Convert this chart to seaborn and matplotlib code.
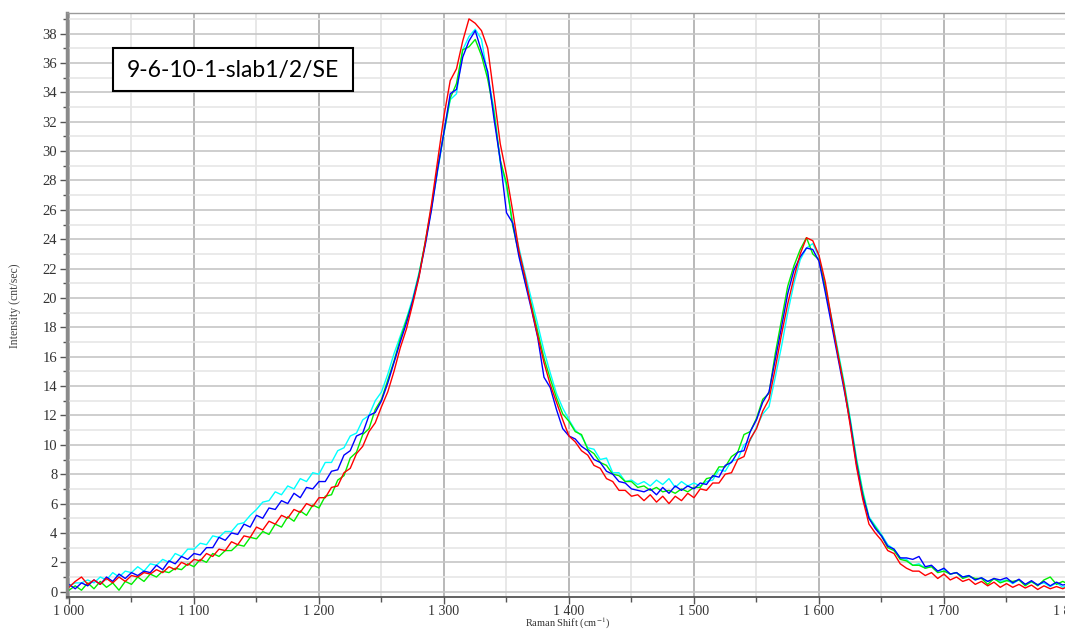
import matplotlib
matplotlib.use("Agg")
import matplotlib.pyplot as plt
import numpy as np
import pandas as pd
import seaborn as sns
from matplotlib.ticker import MultipleLocator, FuncFormatter
from matplotlib.patches import Rectangle

# Raman shift sampling (cm^-1)
shift = list(range(1000, 1805, 5))

red = [0.3, 0.7, 1.0, 0.5, 0.8, 0.5, 0.9, 0.6, 1.0, 0.7,
       1.1, 1.0, 1.3, 1.2, 1.5, 1.3, 1.7, 1.5, 2.0, 1.8,
       2.2, 2.1, 2.6, 2.4, 2.9, 2.8, 3.4, 3.2, 3.8, 3.7,
       4.4, 4.2, 4.8, 4.6, 5.2, 5.0, 5.6, 5.4, 6.0, 5.8,
       6.4, 6.4, 7.1, 7.2, 8.1, 8.4, 9.4, 9.9, 10.9, 11.5,
       12.6, 13.6, 15.0, 16.6, 17.9, 19.6, 21.4, 23.8, 26.4, 29.4,
       32.4, 34.8, 35.6, 37.5, 39.0, 38.7, 38.2, 37.0, 33.8, 30.5,
       28.4, 25.9, 23.2, 21.4, 19.3, 17.4, 15.6, 14.1, 12.9, 11.7,
       10.6, 10.2, 9.6, 9.3, 8.6, 8.4, 7.7, 7.5, 6.9, 6.9,
       6.5, 6.6, 6.2, 6.6, 6.1, 6.5, 6.0, 6.5, 6.2, 6.7,
       6.4, 7.0, 6.9, 7.4, 7.4, 8.0, 8.1, 9.0, 9.2, 10.4,
       11.1, 12.3, 13.1, 15.2, 17.5, 19.6, 21.4, 23.0, 24.1, 23.9,
       22.9, 21.1, 18.6, 16.2, 14.0, 11.3, 8.5, 6.3, 4.6, 4.0,
       3.5, 2.8, 2.6, 1.9, 1.6, 1.4, 1.4, 1.1, 1.3, 0.9,
       1.2, 0.8, 1.0, 0.7, 0.85, 0.5, 0.7, 0.4, 0.65, 0.3,
       0.55, 0.3, 0.5, 0.25, 0.45, 0.15, 0.4, 0.2, 0.35, 0.2,
       0.4]

blue = [0.5, 0.2, 0.6, 0.4, 0.8, 0.5, 1.0, 0.7, 1.2, 0.9,
        1.3, 1.1, 1.4, 1.3, 1.8, 1.5, 2.1, 1.9, 2.4, 2.2,
        2.6, 2.5, 3.0, 3.0, 3.7, 3.5, 4.0, 3.9, 4.6, 4.4,
        5.2, 5.0, 5.7, 5.6, 6.2, 6.0, 6.7, 6.4, 7.1, 7.0,
        7.5, 7.5, 8.2, 8.3, 9.3, 9.6, 10.6, 10.8, 12.0, 12.2,
        13.0, 14.2, 15.6, 17.0, 18.3, 19.8, 21.5, 23.6, 26.0, 28.8,
        31.3, 33.9, 34.2, 36.4, 37.5, 38.2, 36.8, 35.4, 32.2, 29.4,
        25.8, 25.1, 22.8, 21.0, 19.2, 17.3, 14.6, 13.9, 12.4, 11.1,
        10.6, 10.4, 9.9, 9.6, 9.0, 8.8, 8.2, 8.0, 7.5, 7.4,
        7.0, 6.9, 6.8, 7.0, 6.6, 7.1, 6.7, 7.2, 6.9, 7.2,
        7.0, 7.4, 7.3, 7.9, 7.8, 8.6, 8.8, 9.5, 9.6, 10.9,
        11.7, 12.9, 13.6, 15.8, 18.0, 20.3, 21.9, 22.8, 23.4, 23.3,
        22.5, 20.4, 18.2, 16.0, 13.8, 11.5, 8.7, 6.5, 5.0, 4.3,
        3.8, 3.1, 2.9, 2.3, 2.3, 2.2, 2.4, 1.7, 1.8, 1.4,
        1.6, 1.2, 1.3, 1.0, 1.1, 0.8, 0.95, 0.7, 0.9, 0.8,
        0.95, 0.6, 0.85, 0.5, 0.75, 0.45, 0.7, 0.4, 0.65, 0.45,
        0.55]

green = [0.1, 0.4, 0.1, 0.6, 0.2, 0.7, 0.3, 0.6, 0.1, 0.7,
         0.5, 1.0, 0.7, 1.2, 1.0, 1.4, 1.3, 1.6, 1.5, 1.9,
         1.7, 2.2, 2.0, 2.6, 2.4, 2.8, 2.8, 3.2, 3.1, 3.7,
         3.6, 4.1, 3.9, 4.6, 4.4, 5.1, 4.8, 5.5, 5.2, 5.9,
         5.7, 6.5, 6.6, 7.6, 7.9, 9.1, 9.5, 10.7, 11.1, 12.4,
         13.1, 14.4, 15.7, 17.2, 18.5, 19.8, 21.6, 23.8, 26.2, 28.9,
         31.3, 33.6, 34.6, 36.9, 37.1, 37.6, 36.5, 34.9, 32.6, 29.4,
         27.8, 24.9, 23.0, 21.1, 19.5, 17.7, 15.9, 14.5, 13.2, 12.1,
         11.6, 10.9, 10.7, 9.7, 9.4, 8.8, 8.6, 8.0, 7.9, 7.5,
         7.5, 7.1, 7.2, 6.9, 7.1, 6.8, 6.9, 6.7, 7.0, 6.8,
         7.1, 7.1, 7.7, 7.8, 8.5, 8.5, 9.2, 9.5, 10.7, 10.9,
         11.8, 13.1, 13.5, 16.2, 18.5, 20.8, 22.2, 23.3, 24.1, 23.0,
         22.6, 20.8, 18.5, 16.3, 14.1, 11.6, 8.9, 6.7, 5.0, 4.4,
         3.8, 3.0, 2.8, 2.2, 2.1, 1.8, 1.8, 1.6, 1.7, 1.3,
         1.4, 1.2, 1.3, 0.9, 1.05, 0.9, 0.9, 0.5, 0.9, 0.6,
         0.75, 0.7, 0.8, 0.4, 0.7, 0.4, 0.8, 1.0, 0.5, 0.7,
         0.5]

cyan = [0.4, 0.6, 0.6, 0.8, 0.6, 1.0, 0.8, 1.3, 1.0, 1.4,
        1.3, 1.7, 1.4, 1.9, 1.8, 2.2, 2.0, 2.6, 2.4, 2.9,
        2.9, 3.3, 3.2, 3.8, 3.7, 4.1, 4.1, 4.6, 4.7, 5.2,
        5.6, 6.1, 6.2, 6.8, 6.6, 7.2, 7.0, 7.7, 7.5, 8.1,
        8.0, 8.8, 8.8, 9.6, 9.8, 10.6, 10.8, 11.7, 12.0, 13.0,
        13.6, 14.8, 16.2, 17.4, 18.6, 20.0, 21.7, 23.7, 26.1, 28.7,
        31.2, 33.5, 33.9, 36.9, 37.8, 38.3, 37.6, 35.1, 32.9, 29.2,
        27.6, 25.1, 23.4, 21.6, 19.9, 18.2, 16.4, 14.9, 13.5, 12.5,
        11.7, 11.0, 10.6, 9.8, 9.7, 9.0, 9.1, 8.1, 8.1, 7.5,
        7.6, 7.3, 7.5, 7.2, 7.6, 7.3, 7.7, 7.1, 7.5, 7.2,
        7.4, 7.2, 7.5, 7.6, 8.3, 8.2, 8.9, 9.0, 10.0, 10.3,
        11.2, 12.1, 12.6, 14.6, 16.7, 19.0, 21.0, 22.6, 23.4, 23.7,
        22.8, 20.6, 18.7, 16.5, 14.3, 11.8, 9.1, 6.9, 5.1, 4.5,
        3.9, 3.2, 2.9, 2.3, 2.2, 1.8, 1.9, 1.6, 1.75, 1.4,
        1.55, 1.2, 1.3, 1.0, 1.1, 0.8, 0.95, 0.7, 0.85, 0.7,
        0.8, 0.55, 0.8, 0.5, 0.65, 0.5, 0.6, 0.35, 0.6, 0.3,
        0.5]

series_names = ["cyan", "green", "blue", "red"]
series_values = {"cyan": cyan, "green": green, "blue": blue, "red": red}
palette = {"cyan": "#00ffff", "green": "#00ee00", "blue": "#0000ff", "red": "#ff0000"}

title_text = "9-6-10-1-slab1/2/SE"
x_label = "Raman Shift (cm$^{-1}$)"
y_label = "Intensity (cnt/sec)"

frames = []
for name in series_names:
    vals = series_values[name]
    n = min(len(shift), len(vals))
    frames.append(pd.DataFrame({"shift": shift[:n], "intensity": vals[:n], "series": name}))
df = pd.concat(frames, ignore_index=True)

sns.set_style("white")
plt.rcParams['font.family'] = ['Liberation Serif', 'DejaVu Serif']
plt.rcParams['mathtext.fontset'] = 'stix'

fig = plt.figure(figsize=(10.65, 6.32), dpi=100)
ax = fig.add_axes([0.0629, 0.0554, 0.95, 0.924])

sns.lineplot(data=df, x="shift", y="intensity", hue="series", hue_order=series_names,
             palette=palette, linewidth=1.0, estimator=None, sort=False,
             legend=False, ax=ax)

ax.set_xlim(998.4, 1807.8)
ax.set_ylim(-0.36, 39.4)

ax.xaxis.set_major_locator(MultipleLocator(100))
ax.xaxis.set_minor_locator(MultipleLocator(50))
ax.yaxis.set_major_locator(MultipleLocator(2))
ax.yaxis.set_minor_locator(MultipleLocator(1))
ax.xaxis.set_major_formatter(FuncFormatter(lambda v, p: f"{int(round(v)):,}".replace(",", " ")))
ax.yaxis.set_major_formatter(FuncFormatter(lambda v, p: f"{int(round(v))}"))

ax.set_axisbelow(True)
ax.grid(which="major", axis="x", color="#adadad", linewidth=1.2)
ax.grid(which="minor", axis="x", color="#e4e4e4", linewidth=1.2)
ax.grid(which="major", axis="y", color="#c6c6c6", linewidth=1.2)
ax.grid(which="minor", axis="y", color="#e6e6e6", linewidth=1.2)

ax.spines["right"].set_visible(False)
ax.spines["left"].set_color("#8a8a8a")
ax.spines["left"].set_linewidth(2.5)
ax.spines["bottom"].set_color("#555555")
ax.spines["bottom"].set_linewidth(1.3)
ax.spines["top"].set_color("#9a9a9a")
ax.spines["top"].set_linewidth(1.0)

ax.tick_params(axis="y", which="major", length=5, width=1, color="#555555",
               direction="out", labelsize=10.5, pad=2, left=True, labelcolor="#333333")
ax.tick_params(axis="y", which="minor", length=3, width=1, color="#555555",
               direction="out", left=True)
ax.tick_params(axis="x", which="major", length=5, width=1, color="#555555",
               direction="out", labelsize=10, pad=0.5, bottom=True, labelcolor="#333333")
ax.tick_params(axis="x", which="minor", length=3.5, width=1, color="#555555",
               direction="out", bottom=True)

ax.set_xlabel("")
ax.set_ylabel("")
fig.text(0.533, 0.002, x_label, ha="center", va="bottom", fontsize=7.5, color="#333333")
fig.text(0.014, 0.516, y_label, ha="center", va="center", rotation=90, fontsize=8.5, color="#444444")

box = Rectangle((113 / 1065, (632 - 91) / 632), 240 / 1065, 43 / 632,
                transform=fig.transFigure, facecolor="white", edgecolor="black",
                linewidth=1.5, zorder=10)
fig.patches.append(box)
fig.text(233 / 1065, (632 - 70) / 632, title_text, ha="center", va="center",
         fontsize=16.5, family=["Lato", "DejaVu Sans"], color="black", zorder=11)

fig.savefig("out.png", dpi=100)
